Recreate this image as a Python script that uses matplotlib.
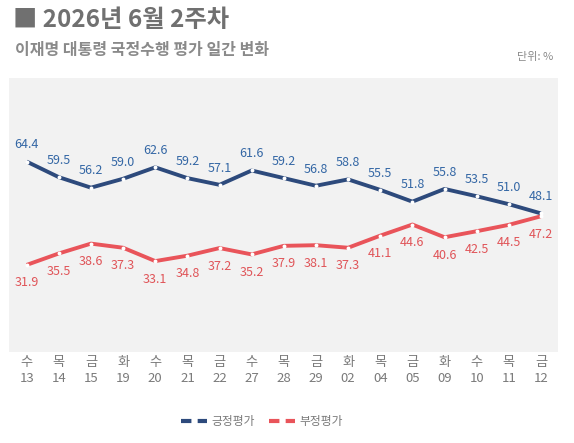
import matplotlib
matplotlib.use("Agg")
import matplotlib.pyplot as plt
from matplotlib.lines import Line2D

plt.rcParams['font.family'] = ['Noto Sans CJK KR', 'DejaVu Sans']

days = ['수', '목', '금', '화', '수', '목', '금', '수', '목', '금', '화', '목', '금', '화', '수', '목', '금']
dates = ['13', '14', '15', '19', '20', '21', '22', '27', '28', '29', '02', '04', '05', '09', '10', '11', '12']
positive = [64.4, 59.5, 56.2, 59.0, 62.6, 59.2, 57.1, 61.6, 59.2, 56.8, 58.8, 55.5, 51.8, 55.8, 53.5, 51.0, 48.1]
negative = [31.9, 35.5, 38.6, 37.3, 33.1, 34.8, 37.2, 35.2, 37.9, 38.1, 37.3, 41.1, 44.6, 40.6, 42.5, 44.5, 47.2]
series_names = ['긍정평가', '부정평가']

blue = '#2d4a7c'
blue_txt = '#3467a5'
red = '#e9545a'
red_txt = '#e05458'
gray = '#7a7a7a'

fig = plt.figure(figsize=(5.74, 4.43), dpi=100)
ax = fig.add_axes([9/574, 1-352/443, (558-9)/574, (352-78)/443])
ax.set_facecolor('#f2f2f2')
for s in ax.spines.values():
    s.set_visible(False)

x = list(range(len(dates)))
ax.plot(x, positive, color=blue, lw=2.8, solid_capstyle='butt', zorder=3)
ax.plot(x, negative, color=red, lw=2.8, solid_capstyle='butt', zorder=3)
ax.plot(x, positive, 'o', ms=2.8, mfc='white', mec='none', zorder=4)
ax.plot(x, negative, 'o', ms=2.8, mfc='white', mec='none', zorder=4)

for xi, v in zip(x, positive):
    ax.annotate(f'{v:.1f}', (xi, v), xytext=(0, 12), textcoords='offset points',
                ha='center', va='center', color=blue_txt, fontsize=9, zorder=5)
for xi, v in zip(x, negative):
    ax.annotate(f'{v:.1f}', (xi, v), xytext=(0, -13), textcoords='offset points',
                ha='center', va='center', color=red_txt, fontsize=9, zorder=5)

ax.set_xlim(-0.55, 16.53)
ax.set_ylim(4.5, 90.7)
ax.set_yticks([])
ax.set_xticks(x)
ax.set_xticklabels([f'{d}\n{n}' for d, n in zip(days, dates)], color=gray, fontsize=9.5,
                   linespacing=1.3)
ax.tick_params(axis='x', length=0, pad=3)

fig.text(13/574, 1-20/443, '■ 2026년 6월 2주차', fontsize=17.5, fontweight='bold',
         color='#707070', va='center', ha='left')
fig.text(15/574, 1-50/443, '이재명 대통령 국정수행 평가 일간 변화', fontsize=11.5, fontweight='bold',
         color='#8a8a8a', va='center', ha='left')
fig.text(553/574, 1-57/443, '단위: %', fontsize=8, color='#8a8a8a', va='center', ha='right')

handles = [Line2D([0], [0], color=blue, lw=3, ls=(0, (2.5, 1.5))),
           Line2D([0], [0], color=red, lw=3, ls=(0, (2.5, 1.5)))]
fig.legend(handles, series_names, loc='center', bbox_to_anchor=(262/574, 1-422/443),
           ncol=2, frameon=False, fontsize=8.5, labelcolor=gray, handlelength=2.2,
           handletextpad=0.4, columnspacing=1.2)

fig.savefig('out.png', dpi=100, facecolor='white')
